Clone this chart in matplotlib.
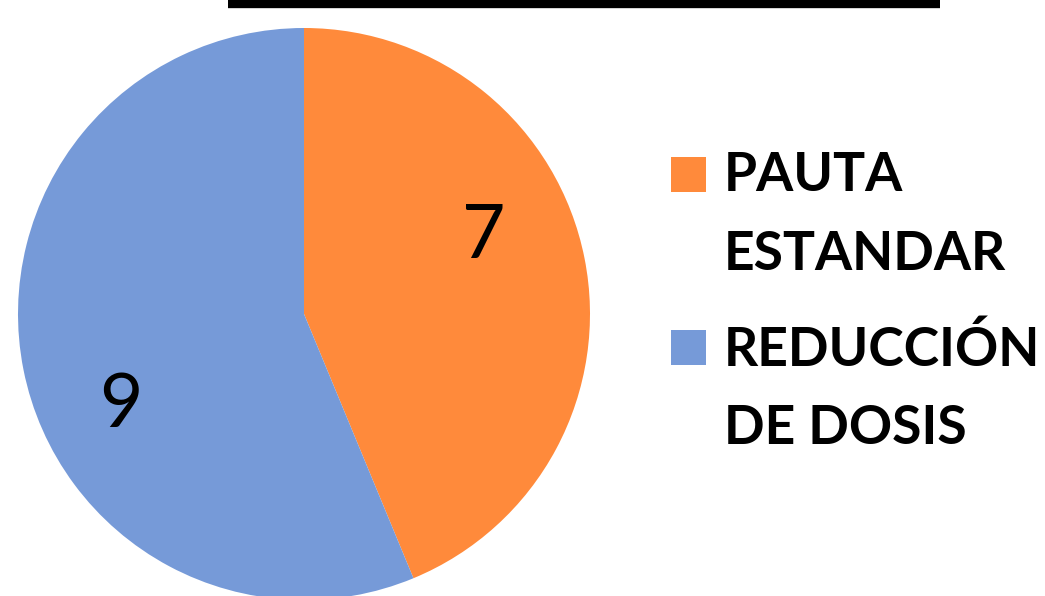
import matplotlib.pyplot as plt
from matplotlib.patches import Rectangle
from matplotlib.lines import Line2D

categories = ["PAUTA\nESTANDAR", "REDUCCIÓN\nDE DOSIS"]
values = [7, 9]
colors = ["#FF8A3B", "#769AD8"]

W, H = 1045, 596
fig = plt.figure(figsize=(W / 100, H / 100), dpi=100)

# pie axes: centre ~ (304, 314) px, radius ~ 286 px
r = 286
cx, cy = 304, 314
ax = fig.add_axes([(cx - r) / W, (H - cy - r) / H, 2 * r / W, 2 * r / H])
wedges, _ = ax.pie(values, colors=colors, startangle=90, counterclock=False,
                   radius=1.0, wedgeprops=dict(linewidth=0))
ax.set_xlim(-1, 1)
ax.set_ylim(-1, 1)
ax.set_aspect("equal")
ax.axis("off")

# value labels inside slices
label_pos = [(0.63, 0.27), (-0.64, -0.32)]
for v, (x, y) in zip(values, label_pos):
    ax.text(x, y, str(v), ha="center", va="center", fontsize=54,
            family="Lato", color="black")

# title underline (title itself is cropped off the top)
fig.add_artist(Line2D([228 / W, 940 / W], [1 - 4 / H, 1 - 4 / H],
                      color="black", linewidth=6, solid_capstyle="butt"))

# legend
sq = 35
entry_tops = [157, 330]
for w, lab, top in zip(wedges, categories, entry_tops):
    fig.add_artist(Rectangle((671 / W, 1 - (top + sq) / H), sq / W, sq / H,
                             facecolor=w.get_facecolor(), edgecolor="none",
                             transform=fig.transFigure))
    fig.text(724 / W, 1 - (top - 6) / H, lab, ha="left", va="top",
             fontsize=38.5, fontweight="bold", family="Lato",
             linespacing=1.75, color="black")

fig.savefig("out.png", dpi=100)
